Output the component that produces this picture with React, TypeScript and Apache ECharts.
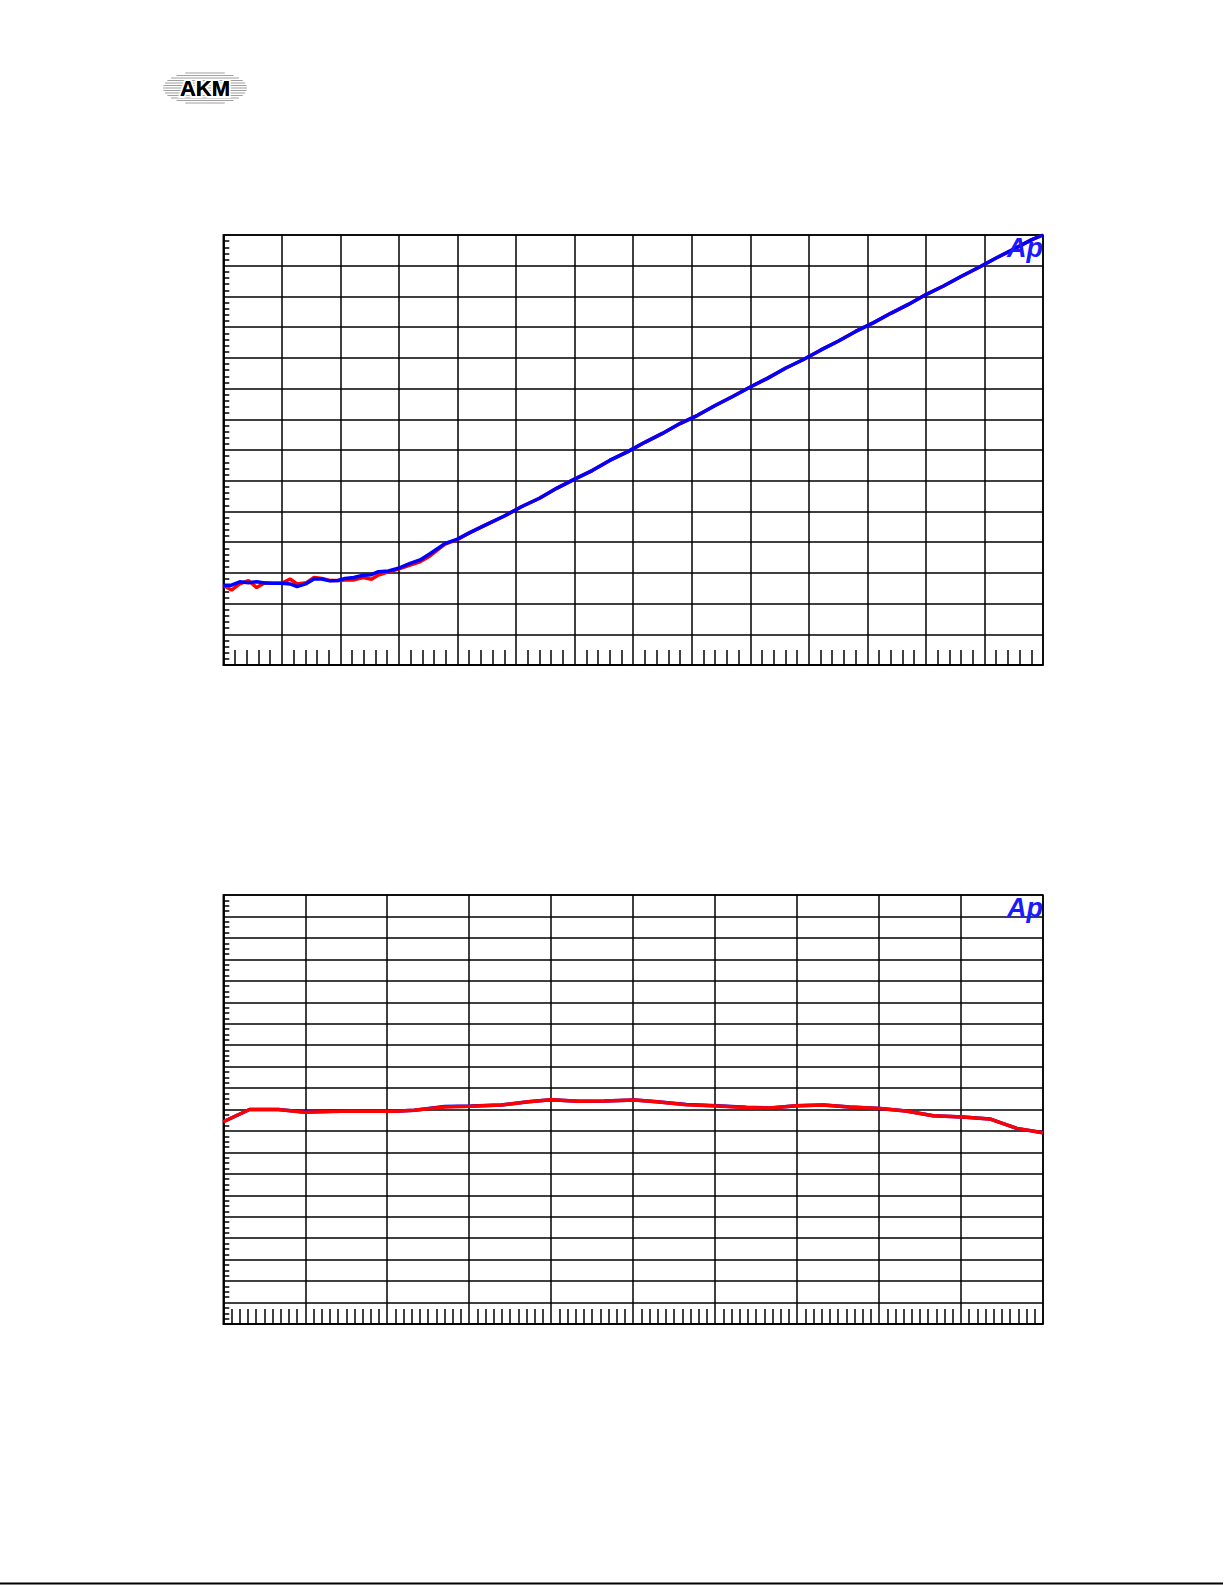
import React, { useEffect, useRef } from "react";
import * as echarts from "echarts";

// ---- Chart 1: output level vs input level (dB) ----
const c1BlueX = [-140, -138.6, -137.2, -135.7, -134.3, -132.9, -131.5, -130.0, -128.6, -127.4, -125.8, -124.5, -123.2, -121.8, -120.4, -119.2, -117.7, -116.1, -114.7, -113.5, -111.8, -110.1, -108.1, -106.4, -104.7, -102.1, -100.1, -97.9, -95.0, -92.0, -89.0, -86.0, -83.0, -80.0, -77.0, -74.0, -71.0, -68.0, -65.0, -62.0, -59.0, -56.0, -53.0, -50.0, -47.0, -44.0, -41.0, -38.0, -35.0, -32.0, -29.0, -26.0, -23.0, -20.0, -17.0, -14.0, -11.0, -8.0, -5.0, -2.0, 0];
const c1BlueY = [-114.0, -114.0, -112.9, -113.2, -112.9, -113.3, -113.4, -113.4, -113.6, -114.5, -113.5, -112.0, -112.0, -112.6, -112.5, -111.8, -111.5, -110.8, -110.6, -109.6, -109.4, -108.5, -106.9, -105.8, -103.8, -100.4, -99.1, -96.9, -94.2, -91.5, -88.4, -85.7, -82.4, -79.5, -76.7, -73.4, -70.6, -67.5, -64.6, -61.4, -58.7, -55.5, -52.6, -49.5, -46.6, -43.4, -40.6, -37.5, -34.6, -31.4, -28.6, -25.5, -22.6, -19.4, -16.6, -13.5, -10.6, -7.5, -4.6, -1.6, 0];
const c1RedX = [-140, -138.6, -137.2, -135.7, -134.3, -132.9, -131.5, -130.0, -128.6, -127.4, -125.8, -124.5, -123.2, -121.8, -120.4, -119.2, -117.7, -116.1, -114.7, -113.5, -111.8, -110.1, -108.1, -106.4, -104.7, -102.1, -100.1, -97.9, -95.0, -92.0, -89.0, -86.0, -83.0, -80.0, -77.0, -74.0, -71.0, -68.0, -65.0, -62.0, -59.0, -56.0, -53.0, -50.0, -47.0, -44.0, -41.0, -38.0, -35.0, -32.0, -29.0, -26.0, -23.0, -20.0, -17.0, -14.0, -11.0, -8.0, -5.0, -2.0, 0];
const c1RedY = [-114.0, -115.6, -113.6, -112.5, -114.8, -113.2, -113.4, -113.4, -112.0, -113.6, -113.2, -111.5, -111.8, -112.5, -112.5, -112.3, -112.3, -111.5, -112.1, -110.7, -109.7, -108.8, -107.5, -106.4, -104.5, -100.6, -99.2, -96.9, -94.2, -91.5, -88.4, -85.7, -82.4, -79.5, -76.7, -73.4, -70.6, -67.5, -64.6, -61.4, -58.7, -55.5, -52.6, -49.5, -46.6, -43.4, -40.6, -37.5, -34.6, -31.4, -28.6, -25.5, -22.6, -19.4, -16.6, -13.5, -10.6, -7.5, -4.6, -1.6, 0];

// ---- Chart 2: frequency response (kHz, dB) ----
const c2X = [0, 0.64, 1.34, 1.98, 3.12, 4.18, 4.66, 5.4, 6.04, 6.78, 7.44, 8.0, 8.66, 9.3, 10.04, 10.58, 11.3, 12.04, 12.76, 13.34, 13.98, 14.64, 15.28, 16.02, 16.66, 17.32, 18.04, 18.7, 19.36, 20.0];
const c2RedY = [-0.057, 0.0, 0.0, -0.013, -0.007, -0.008, -0.004, 0.012, 0.015, 0.021, 0.036, 0.046, 0.038, 0.040, 0.044, 0.036, 0.022, 0.016, 0.009, 0.007, 0.018, 0.021, 0.012, 0.005, -0.007, -0.029, -0.035, -0.044, -0.088, -0.108];
const c2BlueY = [-0.057, 0.0, 0.0, -0.012, -0.006, -0.008, -0.003, 0.014, 0.016, 0.021, 0.036, 0.046, 0.038, 0.040, 0.044, 0.036, 0.023, 0.018, 0.010, 0.007, 0.018, 0.021, 0.012, 0.005, -0.007, -0.029, -0.035, -0.044, -0.088, -0.108];

const zip = (xs: number[], ys: number[]) => xs.map((x, i) => [x, ys[i]]);

export default function App() {
  const ref = useRef<HTMLDivElement>(null);
  useEffect(() => {
    document.body.style.margin = "0";
    const chart = echarts.init(ref.current!, null, { renderer: "svg" });
    const gridLine = { show: true, lineStyle: { color: "#000", width: 1.5 } };
    const mkAxis = (gi: number, pos: string, min: number, max: number, interval: number, minorN: number, len: number) => ({
      type: "value",
      gridIndex: gi,
      position: pos,
      min,
      max,
      interval,
      axisLabel: { show: false },
      axisTick: { show: false, inside: true },
      minorTick: { show: true, splitNumber: minorN, length: len, lineStyle: { color: "#000", width: 1.5 } },
      axisLine: { show: true, onZero: false, lineStyle: { color: "#000", width: 1.5 } },
      splitLine: gridLine,
      minorSplitLine: { show: false },
    });
    const logoStripes: any[] = [];
    const cx = 205, cy = 88, rx = 42, ry = 17;
    for (let dy = -15; dy <= 15; dy += 2.5) {
      const hw = rx * Math.sqrt(Math.max(0, 1 - (dy * dy) / (ry * ry)));
      logoStripes.push({
        type: "rect",
        shape: { x: cx - hw, y: cy + dy - 0.6, width: hw * 2, height: 1.2 },
        style: { fill: "#a0a0a0" },
        silent: true,
      });
    }
    chart.setOption({
      animation: false,
      backgroundColor: "#fff",
      grid: [
        { left: 223.3, top: 235, width: 819.7, height: 430, show: true, borderColor: "#000", borderWidth: 1.5 },
        { left: 223.3, top: 895, width: 819.7, height: 429, show: true, borderColor: "#000", borderWidth: 1.5 },
      ],
      xAxis: [mkAxis(0, "bottom", -140, 0, 10, 5, 15), mkAxis(1, "bottom", 0, 20, 2, 10, 15)],
      yAxis: [mkAxis(0, "left", -140, 0, 10, 5, 6), mkAxis(1, "left", -1, 1, 0.1, 4, 6)],
      series: [
        { type: "line", xAxisIndex: 0, yAxisIndex: 0, data: zip(c1RedX, c1RedY), showSymbol: false, lineStyle: { color: "#ff0000", width: 3.5 }, z: 3 },
        { type: "line", xAxisIndex: 0, yAxisIndex: 0, data: zip(c1BlueX, c1BlueY), showSymbol: false, lineStyle: { color: "#0000ff", width: 3.5 }, z: 4 },
        { type: "line", xAxisIndex: 1, yAxisIndex: 1, data: zip(c2X, c2BlueY), showSymbol: false, lineStyle: { color: "#0000ff", width: 3.5 }, z: 3 },
        { type: "line", xAxisIndex: 1, yAxisIndex: 1, data: zip(c2X, c2RedY), showSymbol: false, lineStyle: { color: "#ff0000", width: 3.5 }, z: 4 },
      ],
      graphic: [
        ...logoStripes,
        {
          type: "text",
          x: 205,
          y: 88,
          style: {
            text: "AKM",
            font: "bold 22px 'Liberation Sans', Arial, sans-serif",
            fill: "#000",
            stroke: "#fff",
            lineWidth: 4,
            align: "center",
            verticalAlign: "middle",
          },
          silent: true,
        },
        {
          type: "text",
          x: 205,
          y: 88,
          style: {
            text: "AKM",
            font: "bold 22px 'Liberation Sans', Arial, sans-serif",
            fill: "#000",
            align: "center",
            verticalAlign: "middle",
          },
          silent: true,
        },
        {
          type: "text",
          x: 1043,
          y: 234,
          z: 10,
          style: {
            text: "Ap",
            font: "bold italic 27px 'Liberation Sans', Arial, sans-serif",
            fill: "#1a1aff",
            align: "right",
            verticalAlign: "top",
          },
        },
        {
          type: "text",
          x: 1043,
          y: 894,
          z: 10,
          style: {
            text: "Ap",
            font: "bold italic 27px 'Liberation Sans', Arial, sans-serif",
            fill: "#1a1aff",
            align: "right",
            verticalAlign: "top",
          },
        },
        {
          type: "rect",
          shape: { x: 0, y: 1582.5, width: 1223, height: 2 },
          style: { fill: "#000" },
        },
      ],
    });
    return () => chart.dispose();
  }, []);
  return <div ref={ref} style={{ width: 1225, height: 1585 }} />;
}
